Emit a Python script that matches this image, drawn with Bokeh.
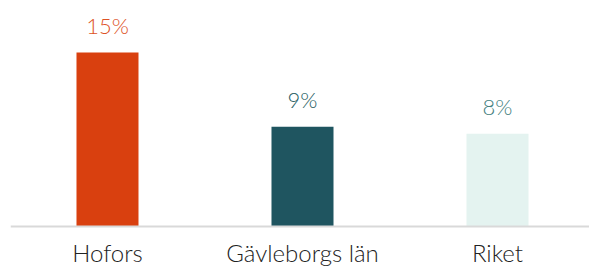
from bokeh.plotting import figure
from bokeh.models import ColumnDataSource, Range1d, Span
from bokeh.embed import file_html
from bokeh.resources import INLINE
from bokeh.core.properties import value

categories = ["Hofors", "Gävleborgs län", "Riket"]
values = [15.0, 8.6, 8.0]
value_labels = ["15%", "9%", "8%"]
bar_colors = ["#D9400F", "#1F5560", "#E4F3F0"]
label_colors = ["#DD5225", "#285E63", "#457F80"]

xs = list(range(len(categories)))
src = ColumnDataSource(dict(x=xs, v=values, lab=value_labels, cat=categories,
                            bc=bar_colors, lc=label_colors, zero=[0] * len(xs)))

p = figure(width=589, height=267, output_backend="svg", toolbar_location=None,
           x_range=Range1d(-0.4974, 2.4718), y_range=Range1d(-3.534, 19.483),
           min_border_left=10, min_border_right=0, min_border_top=0, min_border_bottom=0)
p.outline_line_color = None
p.background_fill_color = "white"
p.border_fill_color = "white"
p.grid.visible = False
p.axis.visible = False

p.add_layout(Span(location=0, dimension="width", line_color="#D9D9D9", line_width=2))
p.vbar(x="x", top="v", width=0.318, bottom=0, fill_color="bc", line_color=None, source=src)
p.text(x="x", y="v", text="lab", text_color="lc", text_align="center", text_baseline="alphabetic",
       y_offset=-27, text_font=value("Lato Light"), text_font_size="22px", source=src)
p.text(x="x", y="zero", text="cat", text_color="#222222", text_align="center", text_baseline="alphabetic",
       y_offset=26, text_font=value("Lato Light"), text_font_size="24px", source=src)

open("out.html", "w").write(file_html(p, INLINE))
